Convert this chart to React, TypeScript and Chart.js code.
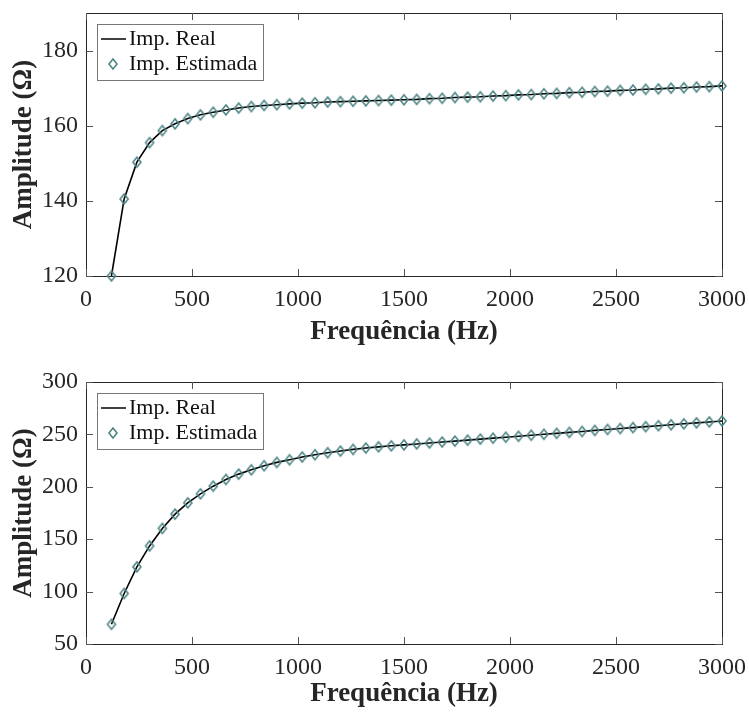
import React, { useEffect, useRef } from "react";
import { Chart, registerables } from "chart.js";

Chart.register(...registerables);

// ---------- DATA ----------
const freqs = [
  120, 180, 240, 300, 360, 420, 480, 540, 600, 660, 720, 780, 840, 900, 960,
  1020, 1080, 1140, 1200, 1260, 1320, 1380, 1440, 1500, 1560, 1620, 1680,
  1740, 1800, 1860, 1920, 1980, 2040, 2100, 2160, 2220, 2280, 2340, 2400,
  2460, 2520, 2580, 2640, 2700, 2760, 2820, 2880, 2940, 3000,
];

const realTop = [
  120.0, 140.5, 150.3, 155.5, 158.7, 160.5, 161.9, 162.9, 163.6, 164.2, 164.7,
  165.1, 165.4, 165.6, 165.8, 166.0, 166.1, 166.3, 166.4, 166.5, 166.6, 166.7,
  166.8, 166.9, 167.0, 167.2, 167.3, 167.5, 167.6, 167.7, 167.9, 168.0, 168.2,
  168.3, 168.5, 168.6, 168.8, 168.9, 169.1, 169.2, 169.4, 169.5, 169.7, 169.8,
  170.0, 170.1, 170.3, 170.4, 170.6,
];
const estTop = [
  120.0, 140.5, 150.3, 155.5, 158.7, 160.5, 161.9, 162.9, 163.6, 164.2, 164.7,
  165.1, 165.4, 165.6, 165.8, 166.0, 166.1, 166.3, 166.4, 166.5, 166.6, 166.7,
  166.8, 166.9, 167.0, 167.2, 167.3, 167.5, 167.6, 167.7, 167.9, 168.0, 168.2,
  168.3, 168.5, 168.6, 168.8, 168.9, 169.1, 169.2, 169.4, 169.5, 169.7, 169.8,
  170.0, 170.1, 170.3, 170.4, 170.6,
];

const realBottom = [
  68.8, 98.2, 123.6, 143.6, 160.3, 173.9, 184.7, 193.3, 200.6, 207.0, 212.1,
  216.2, 220.1, 223.3, 225.8, 228.4, 230.6, 232.5, 234.1, 235.7, 237.0, 238.1,
  239.1, 240.0, 240.9, 241.8, 242.7, 243.6, 244.5, 245.5, 246.4, 247.3, 248.2,
  249.2, 250.1, 251.0, 251.9, 252.8, 253.8, 254.7, 255.6, 256.5, 257.4, 258.3,
  259.2, 260.1, 261.0, 261.9, 262.8,
];
const estBottom = [
  68.8, 98.2, 123.6, 143.6, 160.3, 173.9, 184.7, 193.3, 200.6, 207.0, 212.1,
  216.2, 220.1, 223.3, 225.8, 228.4, 230.6, 232.5, 234.1, 235.7, 237.0, 238.1,
  239.1, 240.0, 240.9, 241.8, 242.7, 243.6, 244.5, 245.5, 246.4, 247.3, 248.2,
  249.2, 250.1, 251.0, 251.9, 252.8, 253.8, 254.7, 255.6, 256.5, 257.4, 258.3,
  259.2, 260.1, 261.0, 261.9, 262.8,
];

const xTicks = [0, 500, 1000, 1500, 2000, 2500, 3000];
const yTicksTop = [120, 140, 160, 180];
const yTicksBottom = [50, 100, 150, 200, 250, 300];
const seriesLabels = ["Imp. Real", "Imp. Estimada"];
const xTitle = "Frequência (Hz)";
const yTitle = "Amplitude (Ω)";

// ---------- STYLE ----------
const FONT = '"Liberation Serif", "Times New Roman", serif';
const AXIS = "#262626";
const MARK = "#4F8585";

function makeDiamond(): HTMLCanvasElement {
  const c = document.createElement("canvas");
  c.width = 12;
  c.height = 14;
  const g = c.getContext("2d")!;
  g.strokeStyle = MARK;
  g.lineWidth = 1.6;
  g.beginPath();
  g.moveTo(6, 2);
  g.lineTo(10, 7);
  g.lineTo(6, 12);
  g.lineTo(2, 7);
  g.closePath();
  g.stroke();
  return c;
}

const framePlugin = {
  id: "frame",
  beforeDatasetsDraw(chart: any) {
    const { ctx, chartArea: a, scales } = chart;
    const tl = 7;
    ctx.save();
    ctx.strokeStyle = AXIS;
    ctx.lineWidth = 1;
    ctx.strokeRect(a.left + 0.5, a.top + 0.5, a.right - a.left, a.bottom - a.top);
    ctx.strokeStyle = "#555";
    ctx.beginPath();
    scales.x.ticks.forEach((t: any) => {
      const px = Math.round(scales.x.getPixelForValue(t.value)) + 0.5;
      ctx.moveTo(px, a.bottom);
      ctx.lineTo(px, a.bottom - tl);
      ctx.moveTo(px, a.top);
      ctx.lineTo(px, a.top + tl);
    });
    scales.y.ticks.forEach((t: any) => {
      const py = Math.round(scales.y.getPixelForValue(t.value)) + 0.5;
      ctx.moveTo(a.left, py);
      ctx.lineTo(a.left + tl, py);
      ctx.moveTo(a.right, py);
      ctx.lineTo(a.right - tl, py);
    });
    ctx.stroke();
    ctx.restore();
  },
};

function makeLegendPlugin(diamond: HTMLCanvasElement) {
  return {
    id: "customLegend",
    afterDraw(chart: any) {
      const { ctx, chartArea: a } = chart;
      const left = a.left + 11;
      const top = a.top + 11;
      const w = 166;
      const h = 56;
      ctx.save();
      ctx.fillStyle = "#fff";
      ctx.fillRect(left, top, w, h);
      ctx.strokeStyle = "#777";
      ctx.lineWidth = 1;
      ctx.strokeRect(left + 0.5, top + 0.5, w, h);
      const r1 = top + 15;
      const r2 = top + 40;
      ctx.strokeStyle = "#000";
      ctx.lineWidth = 1.5;
      ctx.beginPath();
      ctx.moveTo(left + 4, r1);
      ctx.lineTo(left + 29, r1);
      ctx.stroke();
      ctx.drawImage(diamond, left + 16 - diamond.width / 2, r2 - diamond.height / 2);
      ctx.fillStyle = "#111";
      ctx.font = `22px ${FONT}`;
      ctx.textBaseline = "middle";
      ctx.textAlign = "left";
      ctx.fillText(seriesLabels[0], left + 32, r1);
      ctx.fillText(seriesLabels[1], left + 32, r2);
      ctx.restore();
    },
  };
}

type PanelProps = {
  real: number[];
  est: number[];
  yMin: number;
  yMax: number;
  yTicks: number[];
  top: number;
  height: number;
  padTop: number;
  xAxisHeight: number;
  xTitlePad: number;
};

function Panel(p: PanelProps) {
  const ref = useRef<HTMLCanvasElement | null>(null);
  useEffect(() => {
    if (!ref.current) return;
    const diamond = makeDiamond();
    const chart = new Chart(ref.current, {
      type: "line",
      data: {
        datasets: [
          {
            label: seriesLabels[1],
            data: freqs.map((f, i) => ({ x: f, y: p.est[i] })),
            showLine: false,
            pointStyle: diamond as any,
            pointRadius: 5,
            borderColor: MARK,
            backgroundColor: "transparent",
            clip: false as any,
            order: 0,
          },
          {
            label: seriesLabels[0],
            data: freqs.map((f, i) => ({ x: f, y: p.real[i] })),
            borderColor: "#000",
            borderWidth: 1.6,
            pointRadius: 0,
            tension: 0,
            fill: false,
            order: 1,
          },
        ],
      },
      options: {
        responsive: false,
        animation: false,
        events: [],
        layout: { padding: { left: 0, right: 27, top: p.padTop, bottom: 0 } },
        plugins: { legend: { display: false }, tooltip: { enabled: false } },
        scales: {
          x: {
            type: "linear",
            min: 0,
            max: 3000,
            afterBuildTicks: (s: any) => {
              s.ticks = xTicks.map((v) => ({ value: v }));
            },
            afterFit: (s: any) => {
              s.height = p.xAxisHeight;
              s.paddingLeft = 0;
              s.paddingRight = 0;
            },
            grid: { display: false, drawTicks: false },
            border: { display: false },
            ticks: {
              font: { family: FONT, size: 24 },
              color: AXIS,
              padding: 9,
              maxRotation: 0,
              autoSkip: false,
              callback: (v: any) => String(v),
            },
            title: {
              display: true,
              text: xTitle,
              font: { family: FONT, size: 27, weight: "bold" },
              color: AXIS,
              padding: { top: 0, bottom: p.xTitlePad },
            },
          },
          y: {
            type: "linear",
            min: p.yMin,
            max: p.yMax,
            afterBuildTicks: (s: any) => {
              s.ticks = p.yTicks.map((v) => ({ value: v }));
            },
            afterFit: (s: any) => {
              s.width = 86;
              s.paddingTop = 0;
              s.paddingBottom = 0;
            },
            grid: { display: false, drawTicks: false },
            border: { display: false },
            ticks: {
              font: { family: FONT, size: 24 },
              color: AXIS,
              padding: 8,
              autoSkip: false,
              callback: (v: any) => String(v),
            },
            title: {
              display: true,
              text: yTitle,
              font: { family: FONT, size: 27, weight: "bold" },
              color: AXIS,
              padding: { top: 8, bottom: 0 },
            },
          },
        },
      } as any,
      plugins: [framePlugin, makeLegendPlugin(diamond)],
    });
    return () => chart.destroy();
  }, []);
  return (
    <canvas
      ref={ref}
      width={749}
      height={p.height}
      style={{ position: "absolute", left: 0, top: p.top, width: 749, height: p.height, display: "block" }}
    />
  );
}

export default function App() {
  return (
    <div style={{ position: "absolute", left: 0, top: 0, width: 749, height: 713, background: "#fff" }}>
      <Panel
        real={realTop}
        est={estTop}
        yMin={120}
        yMax={190}
        yTicks={yTicksTop}
        top={0}
        height={356}
        padTop={13}
        xAxisHeight={80}
        xTitlePad={8}
      />
      <Panel
        real={realBottom}
        est={estBottom}
        yMin={50}
        yMax={300}
        yTicks={yTicksBottom}
        top={356}
        height={357}
        padTop={26}
        xAxisHeight={69}
        xTitlePad={3}
      />
    </div>
  );
}
